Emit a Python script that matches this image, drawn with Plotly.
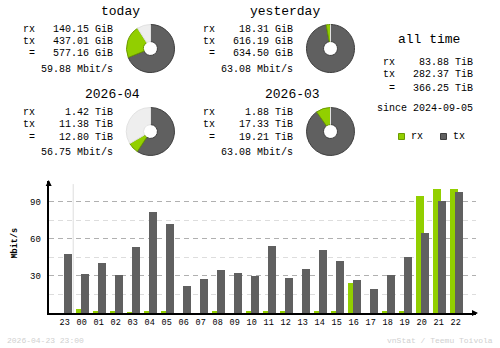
import plotly.graph_objects as go

W, H = 500, 348

# Traffic per summary period
periods = ["today", "yesterday", "2026-04", "2026-03"]
rx_amount = [140.15, 18.31, 1.42, 1.88]
tx_amount = [437.01, 616.19, 11.38, 17.33]
total_amount = [577.16, 634.50, 12.80, 19.21]
amount_unit = ["GiB", "GiB", "TiB", "TiB"]
avg_rate = [59.88, 63.08, 56.75, 63.08]
# donut of a running period is scaled against the previous full period
compare_with = [1, None, 3, None]

alltime_rx = 83.88
alltime_tx = 282.37
alltime_total = 366.25
alltime_unit = "TiB"
since_date = "2024-09-05"

# Hourly average rates (Mbit/s)
hours = ["23", "00", "01", "02", "03", "04", "05", "06", "07", "08", "09", "10",
         "11", "12", "13", "14", "15", "16", "17", "18", "19", "20", "21", "22"]
rx_rate = [0.0, 3.5, 0.9, 0.9, 0.8, 0.9, 0.9, 0.0, 0.0, 1.8, 0.0, 1.8,
           0.9, 0.9, 0.0, 0.9, 0.9, 24.6, 0.0, 2.0, 0.9, 95.1, 100.8, 100.8]
tx_rate = [48.1, 31.9, 40.8, 31.1, 53.8, 82.2, 72.4, 22.2, 27.9, 35.1, 32.7, 30.2,
           54.6, 28.6, 35.9, 51.4, 42.4, 27.0, 19.7, 31.1, 45.6, 65.1, 91.1, 98.4]

RX_COLOR = "#92CF00"
TX_COLOR = "#606060"
RX_EDGE = "#6B9A00"
TX_EDGE = "#3E3E3E"
FREE_COLOR = "#EEEEEE"
FREE_EDGE = "#E2E2E2"
MONO = "Liberation Mono"


def px(x):
    return x / W


def py(y):
    return 1 - y / H


fig = go.Figure()
annotations = []
shapes = []


def text(x, y, s, anchor="left", size=10, color="#000000", **kw):
    annotations.append(dict(
        x=px(x), y=py(y), xref="paper", yref="paper", text=s, showarrow=False,
        xanchor=anchor, yanchor="middle",
        font=dict(family=MONO, size=size, color=color), **kw))


# ---- period blocks with donuts ----
block_origin = [(0, 0), (180, 0), (0, 83), (180, 83)]
for i, name in enumerate(periods):
    ox, oy = block_origin[i]
    unit = amount_unit[i]
    text(142 + ox, 11 + oy, name, anchor="right", size=13)
    rows = [("rx", rx_amount[i]), ("tx", tx_amount[i]), ("=", total_amount[i])]
    for k, (lab, val) in enumerate(rows):
        yy = 29 + 12.5 * k + oy
        text(37 + ox, yy, lab, anchor="right")
        text(115 + ox, yy, f"{val:.2f} {unit}", anchor="right")
    text(115 + ox, 69 + oy, f"{avg_rate[i]:.2f} Mbit/s", anchor="right")

    ref = compare_with[i]
    free = 0.0
    if ref is not None:
        free = max(total_amount[ref] - total_amount[i], 0.0)
    vals = [tx_amount[i], rx_amount[i], free]
    cx, cy, r = 150.5 + ox, 48.5 + oy, 24
    fig.add_trace(go.Pie(
        values=vals, sort=False, direction="clockwise", rotation=0,
        hole=0.29, textinfo="none", hoverinfo="skip", showlegend=False,
        marker=dict(colors=[TX_COLOR, RX_COLOR, FREE_COLOR],
                    line=dict(color=[TX_EDGE, RX_EDGE, FREE_EDGE], width=1)),
        domain=dict(x=[px(cx - r), px(cx + r)], y=[py(cy + r), py(cy - r)]),
    ))

# ---- all time block ----
text(428.5, 39.5, "all time", anchor="center", size=13)
at_rows = [("rx", alltime_rx, 62.5), ("tx", alltime_tx, 74), ("=", alltime_total, 88.5)]
for lab, val, yy in at_rows:
    text(397, yy, lab, anchor="right")
    text(474.5, yy, f"{val:.2f} {alltime_unit}", anchor="right")
text(474.5, 108.5, f"since {since_date}", anchor="right")

# legend
for (x0, col, edge, lab) in [(398.5, RX_COLOR, RX_EDGE, "rx"), (440.5, TX_COLOR, TX_EDGE, "tx")]:
    shapes.append(dict(type="rect", xref="paper", yref="paper",
                       x0=px(x0), x1=px(x0 + 6), y0=py(139.5), y1=py(133.5),
                       fillcolor=col, line=dict(color=edge, width=1)))
    text(x0 + 10, 136.5, lab, anchor="left")

# ---- hourly bar chart ----
xs = list(range(len(hours)))
STEP = 17.0
bar_w = 8 / STEP
fig.add_trace(go.Bar(x=xs, y=rx_rate, width=bar_w, offset=-5.7 / STEP,
                     marker=dict(color=RX_COLOR, line=dict(width=0)),
                     hoverinfo="skip", showlegend=False, xaxis="x", yaxis="y"))
fig.add_trace(go.Bar(x=xs, y=tx_rate, width=bar_w, offset=-0.7 / STEP,
                     marker=dict(color=TX_COLOR, line=dict(width=0)),
                     hoverinfo="skip", showlegend=False, xaxis="x", yaxis="y"))

x_left_px, x_right_px, first_center_px = 48.7, 476.0, 64.7
y_bottom_px, y_top_px = 313.0, 181.0
y_max = 107

# day boundary between 23 and 00
day_break = hours.index("00") - 0.5
shapes.append(dict(type="line", xref="x", yref="y", x0=day_break, x1=day_break,
                   y0=0, y1=104.5, line=dict(color="#DDDDDD", width=1), layer="below"))

# axis arrow heads
annotations.append(dict(x=px(x_left_px), y=py(y_top_px - 1), xref="paper", yref="paper",
                        ax=0, ay=6, text="", showarrow=True,
                        arrowhead=2, arrowsize=0.8, arrowwidth=1.5, arrowcolor="#000000"))
annotations.append(dict(x=px(x_right_px + 2), y=py(y_bottom_px), xref="paper", yref="paper",
                        ax=-6, ay=0, text="", showarrow=True,
                        arrowhead=2, arrowsize=0.8, arrowwidth=1.5, arrowcolor="#000000"))

# axis title
text(14.5, 243, "<b>Mbit/s</b>", anchor="center", size=8.5, textangle=-90)

# footer
text(5, 340, "2026-04-23 23:00", anchor="left", size=8, color="#D0D0D0")
text(495, 340, "vnStat / Teemu Toivola", anchor="right", size=8, color="#D0D0D0")

fig.update_layout(
    width=W, height=H, margin=dict(l=0, r=0, t=0, b=0),
    paper_bgcolor="#FFFFFF", plot_bgcolor="rgba(0,0,0,0)",
    barmode="overlay", bargap=0,
    annotations=annotations, shapes=shapes,
    xaxis=dict(
        domain=[px(x_left_px), px(x_right_px)],
        range=[(x_left_px - first_center_px) / STEP, (x_right_px - first_center_px) / STEP],
        tickmode="array", tickvals=xs, ticktext=hours, ticks="",
        tickfont=dict(family=MONO, size=8.5, color="#000000"),
        showgrid=False, zeroline=False,
        showline=True, linecolor="#000000", linewidth=2,
        anchor="y", fixedrange=True,
    ),
    yaxis=dict(
        domain=[py(y_bottom_px), py(y_top_px)],
        range=[0, y_max],
        tickmode="array", tickvals=[30, 60, 90], ticks="",
        ticklabelstandoff=4,
        tickfont=dict(family=MONO, size=9, color="#000000"),
        showgrid=True, gridcolor="#B0B0B0", griddash="5px,4px", gridwidth=1,
        minor=dict(tickmode="array", tickvals=[15, 45, 75], showgrid=True,
                   gridcolor="#DDDDDD", griddash="5px,4px", gridwidth=1),
        zeroline=False,
        showline=True, linecolor="#000000", linewidth=2,
        anchor="x", fixedrange=True,
    ),
)

fig.write_html("out.html")
